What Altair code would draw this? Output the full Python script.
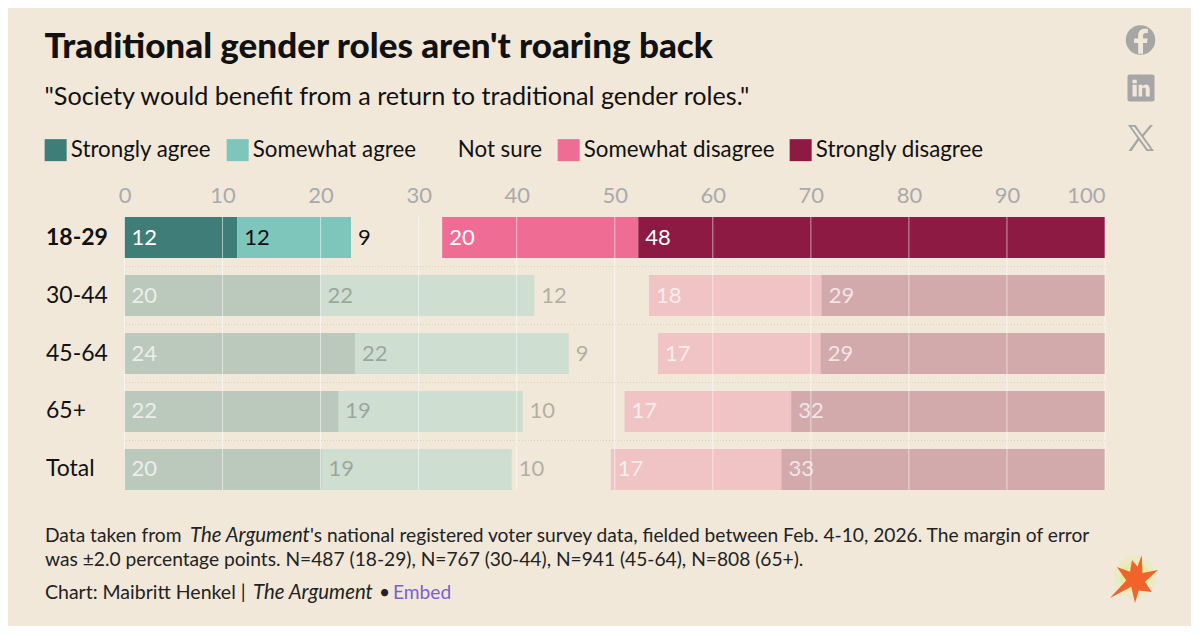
import altair as alt
import pandas as pd

BG = "#f1e8da"
BODY = "Lato"

rows = ["18-29", "30-44", "45-64", "65+", "Total"]
cats = ["Strongly agree", "Somewhat agree", "Not sure", "Somewhat disagree", "Strongly disagree"]
colors = ["#3f7d78", "#7ec6bc", "rgba(0,0,0,0)", "#ef6c94", "#8c1a42"]
strongly_agree = [11.5, 20.0, 23.5, 21.8, 20.1]
somewhat_agree = [11.6, 21.8, 21.8, 18.8, 19.4]
not_sure = [9.3, 11.7, 9.1, 10.4, 10.1]
somewhat_disagree = [20.0, 17.6, 16.6, 17.0, 17.4]
strongly_disagree = [47.6, 28.9, 29.0, 32.0, 33.0]
series = [strongly_agree, somewhat_agree, not_sure, somewhat_disagree, strongly_disagree]
grid_ticks = [0, 10, 20, 30, 40, 50, 60, 70, 80, 90, 100]
label_on_dark = [True, False, False, True, True]

records = []
for ri, r in enumerate(rows):
    start = 0.0
    for ci, c in enumerate(cats):
        v = series[ci][ri]
        dark = label_on_dark[ci]
        records.append(dict(row=r, cat=c, start=start, end=start + v, label=f"{v:.0f}",
                            hi=ri == 0, dark=dark,
                            text_op=1 if ri == 0 else (0.7 if dark else 0.27)))
        start += v
df = pd.DataFrame(records)

yenc = alt.Y("row:N", sort=rows, title=None,
             scale=alt.Scale(domain=rows, paddingInner=0.293, paddingOuter=0),
             axis=alt.Axis(ticks=False, domain=False, labelAlign="left", labelPadding=79,
                           labelFontSize=23, labelColor="#111111", labelFont=BODY,
                           labelFontWeight=alt.condition("datum.value == '18-29'", alt.value(700), alt.value(400))))
xenc = alt.X("start:Q", title=None, scale=alt.Scale(domain=[0, 100], nice=False),
             axis=alt.Axis(orient="top", values=grid_ticks, ticks=False, domain=False, grid=False,
                           labelFontSize=22, labelColor="#aaaaaa", labelFont=BODY, labelPadding=10,
                           labelAlign=alt.condition("datum.value == 100", alt.value("right"), alt.value("center"))))

bars = alt.Chart(df).mark_bar(cornerRadius=0).encode(
    x=xenc, x2="end:Q", y=yenc,
    color=alt.Color("cat:N", title=None, sort=cats,
                    scale=alt.Scale(domain=cats, range=colors),
                    legend=alt.Legend(orient="none", legendX=-80, legendY=-78, direction="horizontal",
                                      columns=5, gridAlign="none", symbolType="square", symbolSize=484,
                                      symbolStrokeWidth=0, symbolOpacity=1, columnPadding=15,
                                      labelFontSize=22.3, labelFont=BODY, labelColor="#111111", labelOffset=4,
                                      labelLimit=300)),
    opacity=alt.condition("datum.hi", alt.value(1), alt.value(0.3)),
)

sep = alt.Chart(pd.DataFrame({"row": rows[:-1]})).mark_rule(
    color="#d9d0c1", strokeDash=[1, 2], strokeWidth=1, yOffset=8.5
).encode(y=alt.Y("row:N", sort=rows, bandPosition=1))

grid = alt.Chart(pd.DataFrame({"start": grid_ticks})).mark_rule(
    color="#ffffff", strokeWidth=1, opacity=0.55
).encode(x="start:Q")

labels = alt.Chart(df).mark_text(align="left", baseline="middle", dx=7, fontSize=22, font=BODY).encode(
    x="start:Q", y=alt.Y("row:N", sort=rows), text="label:N",
    color=alt.condition("datum.dark", alt.value("#ffffff"), alt.value("#111111")),
    opacity=alt.Opacity("text_op:Q", scale=None),
)

# footer runs: text, font style, size, colour, left edge on the page, baseline on the page
foot_text = ["Data taken from", "The Argument",
             "'s national registered voter survey data, fielded between Feb. 4-10, 2026. The margin of error",
             "was ±2.0 percentage points. N=487 (18-29), N=767 (30-44), N=941 (45-64), N=808 (65+).",
             "Chart: Maibritt Henkel |", "The Argument", "•", "Embed"]
foot_style = ["normal", "italic", "normal", "normal", "normal", "italic", "normal", "normal"]
foot_size = [19.2, 20.4, 19.2, 19.2, 19.5, 20.4, 19.2, 19.2]
foot_color = ["#222222"] * 7 + ["#7b5fd1"]
foot_x = [45, 190, 310, 45, 45, 253, 379, 393]
foot_y = [542, 542, 542, 566, 599, 599, 599, 599]
OX, OY = 124.5, 217
foot = []
for t, s, z, c, x, y in zip(foot_text, foot_style, foot_size, foot_color, foot_x, foot_y):
    foot.append(alt.Chart(pd.DataFrame({"t": [t]})).mark_text(
        align="left", baseline="alphabetic", fontSize=z, font=BODY, fontStyle=s, color=c
    ).encode(text="t:N", x=alt.value(x - OX), y=alt.value(y - OY)))

def icon(path, px, py, size, color, op=1):
    return alt.Chart(pd.DataFrame({"a": [1]})).mark_point(
        shape=path, size=size, filled=True, fill=color, opacity=op
    ).encode(x=alt.value(px - OX), y=alt.value(py - OY))

GREY = "#a6a6a6"
fb_f = "M0.16,1 L0.16,0.16 L0.46,0.16 L0.52,-0.2 L0.16,-0.2 L0.16,-0.42 C0.16,-0.54 0.24,-0.62 0.36,-0.62 L0.54,-0.62 L0.54,-0.94 C0.3,-1 -0.22,-1.02 -0.22,-0.42 L-0.22,-0.2 L-0.54,-0.2 L-0.54,0.16 L-0.22,0.16 L-0.22,1 Z"
square = "M-0.85,-1 L0.85,-1 Q1,-1 1,-0.85 L1,0.85 Q1,1 0.85,1 L-0.85,1 Q-1,1 -1,0.85 L-1,-0.85 Q-1,-1 -0.85,-1 Z"
li_i = "M-0.72,-0.28 L-0.36,-0.28 L-0.36,0.72 L-0.72,0.72 Z M-0.72,-0.7 L-0.36,-0.7 L-0.36,-0.4 L-0.72,-0.4 Z"
li_n = "M-0.2,-0.28 L0.12,-0.28 L0.12,-0.14 C0.3,-0.4 0.74,-0.38 0.74,0.1 L0.74,0.72 L0.4,0.72 L0.4,0.16 C0.4,-0.1 0.1,-0.1 0.1,0.16 L0.1,0.72 L-0.2,0.72 Z"
x_a = "M-1,-1 L-0.42,-1 L1,1 L0.42,1 Z"
x_slit = "M-0.74,-0.86 L-0.52,-0.86 L0.74,0.86 L0.52,0.86 Z"
x_b = "M0.92,-1 L0.7,-1 L0.06,-0.24 L0.17,-0.1 Z M-0.12,0.12 L-0.23,-0.02 L-0.96,1 L-0.72,1 Z"
star = ("M0.27,-0.92 L0.3,-0.2 L0.92,-0.32 L0.4,0.15 L0.67,0.56 L0.15,0.5 L0,1 L-0.15,0.35 "
        "L-1,0.8 L-0.35,0.1 L-0.72,-0.44 L-0.2,-0.25 L-0.12,-0.72 L0.1,-0.45 Z")
icons = [
    icon("circle", 1140.5, 40, 870, GREY),
    icon(fb_f, 1141, 41, 650, BG),
    icon(square, 1141, 88, 729, GREY),
    icon(li_i, 1141, 88, 560, BG),
    icon(li_n, 1141, 88, 560, BG),
    icon(x_a, 1141, 138, 676, GREY),
    icon(x_slit, 1141, 138, 676, BG),
    icon(x_b, 1141, 138, 676, GREY),
    icon("circle", 1135, 577, 1800, "#e6eeaa", 0.45),
    icon("circle", 1135, 577, 900, "#dcf08c", 0.6),
    icon(star, 1135, 578, 2500, "#f0642c"),
]

chart = alt.layer(bars, sep, grid, labels, *foot, *icons).properties(
    width=980.5, height=273,
    padding={"left": 116.5, "top": 209, "right": 86, "bottom": 136},
    autosize=alt.AutoSizeParams(type="none"),
    background=BG,
    title=alt.TitleParams(
        "Traditional gender roles aren't roaring back",
        subtitle='"Society would benefit from a return to traditional gender roles."',
        anchor="start", frame="bounds", font=BODY, fontSize=35, fontWeight=900, color="#111111",
        subtitleFont=BODY, subtitleFontSize=25.2, subtitleColor="#111111", subtitlePadding=20, offset=-85,
    ),
).configure_view(stroke=None).resolve_scale(x="shared", y="shared")

chart.save("out.html", embed_options={"renderer": "svg", "actions": False})
